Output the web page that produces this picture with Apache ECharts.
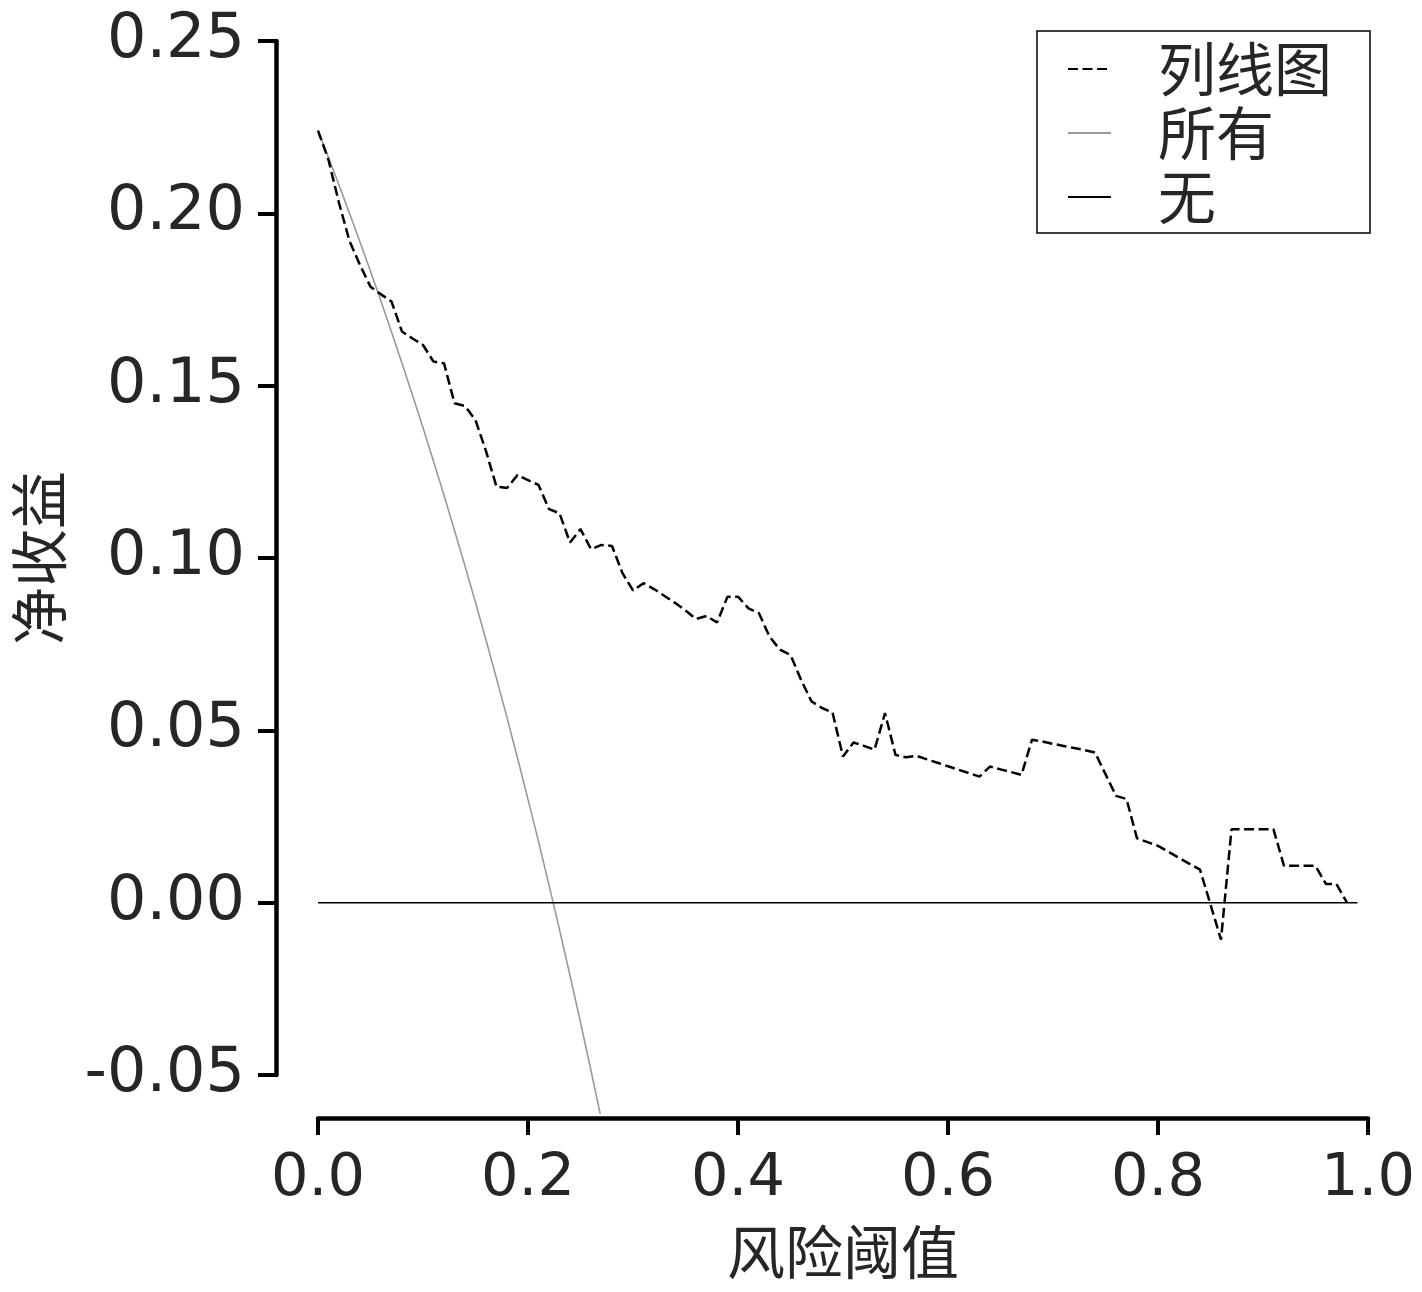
<!DOCTYPE html>
<html>
<head>
<meta charset="utf-8">
<script src="https://cdn.jsdelivr.net/npm/echarts@6/dist/echarts.min.js"></script>
<style>
html,body{margin:0;padding:0;background:#fff;}
#chart{width:1422px;height:1292px;}
</style>
</head>
<body>
<div id="chart"></div>
<script>
// ---- data ----
const seriesNames = ['列线图', '所有', '无'];
const nomogramX = [0.00,0.01,0.02,0.03,0.04,0.05,0.06,0.07,0.08,0.09,
  0.10,0.11,0.12,0.13,0.14,0.15,0.16,0.17,0.18,0.19,
  0.20,0.21,0.22,0.23,0.24,0.25,0.26,0.27,0.28,0.29,
  0.30,0.31,0.32,0.33,0.34,0.35,0.36,0.37,0.38,0.39,
  0.40,0.41,0.42,0.43,0.44,0.45,0.46,0.47,0.48,0.49,
  0.50,0.51,0.52,0.53,0.54,0.55,0.56,0.57,0.58,0.59,
  0.60,0.61,0.62,0.63,0.64,0.65,0.66,0.67,0.68,0.69,
  0.70,0.71,0.72,0.73,0.74,0.75,0.76,0.77,0.78,0.79,
  0.80,0.81,0.82,0.83,0.84,0.85,0.86,0.87,0.88,0.89,
  0.90,0.91,0.92,0.93,0.94,0.95,0.96,0.97,0.98];
const nomogramY = [0.2240,0.2155,0.2030,0.1920,0.1850,0.1787,0.1765,0.1744,0.1657,0.1637,
  0.1618,0.1570,0.1565,0.1449,0.1441,0.1400,0.1310,0.1207,0.1203,0.1241,
  0.1226,0.1212,0.1142,0.1130,0.1045,0.1084,0.1026,0.1038,0.1035,0.0956,
  0.0906,0.0927,0.0910,0.0890,0.0870,0.0848,0.0823,0.0832,0.0813,0.0888,
  0.0888,0.0854,0.0840,0.0772,0.0734,0.0719,0.0647,0.0584,0.0565,0.0552,
  0.0424,0.0465,0.0455,0.0444,0.0550,0.0429,0.0422,0.0426,0.0416,0.0406,
  0.0396,0.0386,0.0376,0.0366,0.0395,0.0387,0.0379,0.0371,0.0473,0.0468,
  0.0461,0.0455,0.0449,0.0443,0.0436,0.0373,0.0310,0.0301,0.0187,0.0176,
  0.0165,0.0148,0.0130,0.0113,0.0096,-0.0005,-0.0107,0.0213,0.0213,0.0213,
  0.0213,0.0213,0.0107,0.0107,0.0107,0.0107,0.0054,0.0054,0.0000];
const allX = [0.00,0.01,0.02,0.03,0.04,0.05,0.06,0.07,0.08,0.09,
  0.10,0.11,0.12,0.13,0.14,0.15,0.16,0.17,0.18,0.19,
  0.20,0.21,0.22,0.23,0.24,0.25,0.26,0.27];
const allY = [0.2240,0.2162,0.2082,0.2000,0.1917,0.1832,0.1745,0.1656,0.1565,0.1472,
  0.1378,0.1281,0.1182,0.1080,0.0977,0.0871,0.0762,0.0651,0.0537,0.0420,
  0.0300,0.0178,0.0051,-0.0078,-0.0211,-0.0347,-0.0487,-0.0630];
const noneX = [0.00, 0.99];
const noneY = [0.0, 0.0];
const xTickLabels = ['0.0','0.2','0.4','0.6','0.8','1.0'];
const yTickLabels = ['-0.05','0.00','0.05','0.10','0.15','0.20','0.25'];
const xTitle = '风险阈值';
const yTitle = '净收益';

function pairs(xs, ys){ return xs.map((x,i)=>[x, ys[i]]); }

const NUM_FONT = 'DejaVu Sans';
const CJK_FONT = '"Noto Sans CJK SC", "DejaVu Sans", sans-serif';
const TXT = '#262626';

const chart = echarts.init(document.getElementById('chart'), null, {renderer:'canvas'});
const option = {
  backgroundColor: '#fff',
  animation: false,
  grid: [
    {left: 318, width: 1050, top: 41, height: 1072},
    {left: 276, width: 1, top: 41, height: 1034},
    {left: 318, width: 1050, top: 1116, height: 2}
  ],
  xAxis: [
    {gridIndex: 0, type: 'value', min: 0, max: 1, show: false},
    {gridIndex: 1, type: 'value', min: 0, max: 1, show: false},
    {gridIndex: 2, type: 'value', min: 0, max: 1, interval: 0.2, position: 'bottom',
     axisLine: {show: true, lineStyle: {color: '#000', width: 4.5}},
     axisTick: {show: true, length: 17, lineStyle: {color: '#000', width: 4}},
     splitLine: {show: false},
     axisLabel: {margin: 32, fontSize: 59, fontFamily: NUM_FONT, color: TXT,
       formatter: (v, i) => xTickLabels[i]},
     name: xTitle, nameLocation: 'middle', nameGap: 105,
     nameTextStyle: {fontSize: 58, fontFamily: CJK_FONT, color: TXT}}
  ],
  yAxis: [
    {gridIndex: 0, type: 'value', min: -0.061, max: 0.25, show: false},
    {gridIndex: 1, type: 'value', min: -0.05, max: 0.25, interval: 0.05, position: 'left',
     axisLine: {show: true, lineStyle: {color: '#000', width: 4.5}},
     axisTick: {show: true, length: 18, lineStyle: {color: '#000', width: 4}},
     splitLine: {show: false},
     axisLabel: {margin: 31, fontSize: 62, fontFamily: NUM_FONT, color: TXT,
       padding: [5, 0, 0, 0],
       formatter: (v, i) => yTickLabels[i]},
     name: yTitle, nameLocation: 'middle', nameGap: 208, nameRotate: 90,
     nameTextStyle: {fontSize: 58, fontFamily: CJK_FONT, color: TXT}},
    {gridIndex: 2, type: 'value', min: 0, max: 1, show: false}
  ],
  legend: {
    orient: 'vertical', left: 1037, top: 31,
    data: seriesNames,
    itemWidth: 43, itemHeight: 14, itemGap: 0,
    padding: [6, 38, 4, 30],
    borderColor: '#000', borderWidth: 1.5, borderRadius: 0,
    backgroundColor: '#fff',
    itemStyle: {opacity: 0},
    textStyle: {fontSize: 58, fontFamily: CJK_FONT, color: TXT, lineHeight: 64, padding: [0,0,0,42]}
  },
  series: [
    {name: seriesNames[0], type: 'line', xAxisIndex: 0, yAxisIndex: 0,
     data: pairs(nomogramX, nomogramY), symbol: 'none', z: 4,
     lineStyle: {color: '#000', width: 2.5, type: [10, 4.5]}, itemStyle: {color: '#000'}},
    {name: seriesNames[1], type: 'line', xAxisIndex: 0, yAxisIndex: 0,
     data: pairs(allX, allY), symbol: 'none', z: 3, clip: true,
     lineStyle: {color: '#999', width: 1.6}, itemStyle: {color: '#999'}},
    {name: seriesNames[2], type: 'line', xAxisIndex: 0, yAxisIndex: 0,
     data: pairs(noneX, noneY), symbol: 'none', z: 3,
     lineStyle: {color: '#000', width: 1.6}, itemStyle: {color: '#000'}}
  ]
};
chart.setOption(option);
</script>
</body>
</html>
